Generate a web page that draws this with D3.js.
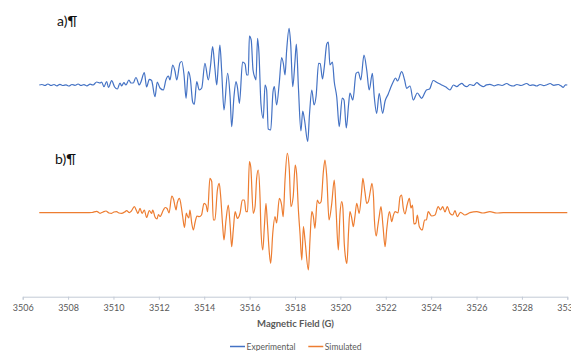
<!DOCTYPE html>
<html>
<head>
<meta charset="utf-8">
<script src="https://cdn.jsdelivr.net/npm/d3@7/dist/d3.min.js"></script>
<style>
  html, body { margin: 0; padding: 0; background: #fff; }
  svg { display: block; }
</style>
</head>
<body>
<div id="chart"></div>
<script>
// EPR spectra: field (G) and first-derivative intensity (a.u.)
const expField = [3506.73,3506.85,3506.98,3507.11,3507.25,3507.38,3507.51,3507.64,3507.78,3507.91,3508.04,3508.17,3508.30,3508.44,3508.57,3508.70,3508.83,3508.97,3509.10,3509.26,3509.41,3509.48,3509.58,3509.70,3509.78,3509.92,3510.05,3510.17,3510.29,3510.36,3510.46,3510.55,3510.68,3510.77,3510.87,3510.99,3511.14,3511.21,3511.36,3511.46,3511.58,3511.68,3511.83,3511.93,3512.05,3512.20,3512.31,3512.42,3512.49,3512.61,3512.71,3512.79,3512.93,3513.01,3513.11,3513.20,3513.30,3513.39,3513.49,3513.56,3513.67,3513.78,3513.89,3514.03,3514.18,3514.28,3514.37,3514.47,3514.55,3514.62,3514.69,3514.77,3514.87,3515.03,3515.14,3515.21,3515.31,3515.40,3515.47,3515.55,3515.69,3515.80,3515.87,3515.94,3515.99,3516.07,3516.15,3516.24,3516.28,3516.35,3516.41,3516.50,3516.60,3516.68,3516.75,3516.82,3516.93,3517.03,3517.09,3517.19,3517.31,3517.41,3517.49,3517.56,3517.63,3517.74,3517.81,3517.90,3518.00,3518.06,3518.15,3518.26,3518.34,3518.42,3518.56,3518.64,3518.74,3518.84,3518.93,3519.04,3519.11,3519.21,3519.29,3519.40,3519.47,3519.54,3519.65,3519.73,3519.84,3519.95,3520.08,3520.16,3520.26,3520.36,3520.42,3520.55,3520.69,3520.79,3520.90,3521.04,3521.16,3521.27,3521.41,3521.49,3521.60,3521.71,3521.86,3521.97,3522.11,3522.21,3522.33,3522.43,3522.52,3522.70,3522.83,3522.92,3523.07,3523.21,3523.39,3523.58,3523.79,3523.93,3524.09,3524.26,3524.46,3524.65,3524.83,3524.98,3525.13,3525.25,3525.35,3525.45,3525.57,3525.71,3525.87,3526.01,3526.15,3526.30,3526.44,3526.59,3526.77,3526.95,3527.12,3527.33,3527.47,3527.62,3527.78,3527.96,3528.21,3528.36,3528.49,3528.65,3528.80,3528.97,3529.10,3529.24,3529.41,3529.60,3529.72,3529.82,3529.92,3530.00];
const expValue = [0,0.5,-0.5,1,-0.5,0.5,-0.8,0.7,-0.5,0.2,-1,0.5,-0.3,1,-0.5,0.4,-0.8,0.8,0,3,2,3,-1.7,3.5,-2.5,4.3,-2,-4,2,-1,2.3,0,5,2,2,7.5,0,3,12.3,-2,5.7,4.5,-11.7,3,-3,-5,5,9,5,20,14,5,22,23.5,10,-13.3,13.3,6,-17,-19.5,3.3,-5,-3,21.7,5,20,38.3,16.7,0,20,40,13.3,-25,11.7,-11.7,-41.7,-11.7,3.3,-3.3,-18.3,23,21,10,10,49,45,15,7,5,46.7,33,-19,-33.5,0,-5,-44,-45,-7,-1.7,-20,3,27.5,21,10,34,56.7,41,-1.7,24,41,-2,-46,-26,-35,-56.5,-29,-5,-20,-11,21.7,21.5,6,18,41,43,20,23,3.3,-12,-41.7,-13,-15,-43,-20,-8,-15,11.7,13,5,30,15,-5,11.7,-11,-28.3,-8.3,-28.3,-16,-9,-3,3.3,7,4,13.3,5,-3.3,-1,-15,-8,-13.3,-5,-4,4.5,2.5,0,-2,-5,0,-1.7,0.5,1.7,-0.5,-1.7,0.5,-0.5,2.3,0,-1.7,0.2,0.7,-0.8,0.4,-0.5,1.5,-0.2,-1,0.5,-0.5,1.5,-0.5,0.2,-1,0.5,-0.6,0.3,1.5,-0.3,0.5,-0.8,-2.3,0.2,0];

const simField = [3506.73,3508.82,3509.05,3509.26,3509.41,3509.54,3509.67,3509.80,3509.92,3510.02,3510.14,3510.24,3510.36,3510.49,3510.58,3510.70,3510.79,3510.92,3511.02,3511.08,3511.17,3511.26,3511.36,3511.46,3511.58,3511.68,3511.73,3511.83,3511.92,3511.98,3512.05,3512.20,3512.28,3512.36,3512.45,3512.57,3512.65,3512.71,3512.76,3512.81,3512.91,3512.99,3513.05,3513.13,3513.21,3513.25,3513.32,3513.37,3513.45,3513.52,3513.60,3513.68,3513.78,3513.88,3513.99,3514.08,3514.15,3514.25,3514.33,3514.40,3514.47,3514.58,3514.66,3514.73,3514.81,3514.87,3514.96,3515.06,3515.14,3515.21,3515.28,3515.36,3515.46,3515.58,3515.68,3515.77,3515.84,3515.91,3515.99,3516.05,3516.16,3516.24,3516.31,3516.38,3516.46,3516.50,3516.58,3516.65,3516.72,3516.78,3516.87,3516.93,3517.02,3517.12,3517.19,3517.31,3517.41,3517.48,3517.56,3517.66,3517.75,3517.82,3517.92,3518.01,3518.07,3518.15,3518.22,3518.30,3518.37,3518.44,3518.59,3518.66,3518.74,3518.81,3518.88,3518.98,3519.07,3519.15,3519.25,3519.32,3519.40,3519.50,3519.62,3519.73,3519.81,3519.91,3519.98,3520.06,3520.11,3520.17,3520.23,3520.29,3520.36,3520.42,3520.50,3520.57,3520.64,3520.72,3520.83,3520.93,3520.99,3521.08,3521.16,3521.23,3521.34,3521.39,3521.46,3521.50,3521.58,3521.65,3521.71,3521.79,3521.88,3521.97,3522.04,3522.16,3522.21,3522.26,3522.34,3522.41,3522.54,3522.63,3522.70,3522.77,3522.85,3522.94,3523.04,3523.11,3523.18,3523.24,3523.33,3523.39,3523.48,3523.61,3523.71,3523.79,3523.87,3524.02,3524.17,3524.31,3524.41,3524.51,3524.61,3524.71,3524.83,3524.95,3525.05,3525.15,3525.29,3525.49,3525.71,3526.01,3526.28,3526.59,3526.88,3527.18,3530.00];
const simValue = [0,0,0.2,1.4,-0.6,0.7,1.7,-0.3,-0.6,0.7,1,-0.3,-0.6,0.7,2,0,1.7,6,1.7,-0.8,4.4,-0.8,2.7,-4.8,2.2,-0.8,2.7,-4.3,-6.3,-1.8,-3.8,2.7,5.2,4.2,-0.3,16.7,13.2,6.7,2.7,9.7,14.4,5.7,-3.8,-14.8,-0.3,-2.8,-5.3,2.7,-10.6,-17.3,-9.3,-3.3,-4,-2.3,9.4,7.7,1,34.4,31.2,-7.3,-7.3,22.7,29.4,14.7,-12.3,-27.3,-7.3,7.7,-12.3,-34,-17.3,1,-5.6,-0.3,12.7,12.7,1,1,51,45.7,-0.6,6.2,34.4,42.7,14.4,-17.3,-37.3,-14,9.4,-9.3,-40.6,-50.6,-20.6,-4,-10.3,14.4,7.7,-4,32.7,59.4,42.7,6,16,47.7,39.4,2.7,-20.6,-47.3,-14,-27.3,-57.3,-27.3,1,-4,-15.6,12.7,9.4,11,41,52.7,36,-7.3,9.4,32.7,2.7,-37.3,-2.3,11,4.7,-30.6,-45.6,-50.6,-19,1,-5.3,-14,-4,9.4,-0.6,19.4,34.4,21,9.4,11,24.4,29.4,15.7,-7.3,-23.3,-13.3,-4,6,-14,-34,-17.3,1,-3.3,-9,-2.3,1,-0.3,16,17.7,4.7,-1.3,7.7,14.4,4.7,7.7,-11.3,-10.3,-2.3,-14,-17.3,-7.3,-7.3,1,-3.3,-2.3,6,2.7,6,0.7,6,-0.6,-2.3,2,-4,0.4,-2.3,0,1,-0.3,1,-0.3,0.1,0];

const xTicks = [3506,3508,3510,3512,3514,3516,3518,3520,3522,3524,3526,3528,3530];
const seriesNames = ["Experimental", "Simulated"];
const panelLabels = ["a)\u00B6", "b)\u00B6"];

const W = 571, H = 351;
const colors = { exp: "#4472C4", sim: "#ED7D31" };
const expOffset = 127.7; // vertical shift that stacks trace a) above trace b)

const svg = d3.select("#chart").append("svg")
  .attr("width", W).attr("height", H)
  .style("font-family", "Lato, 'Open Sans', sans-serif");

const x = d3.scaleLinear().domain([3506, 3530]).range([22.7, 567.3]);
const y = d3.scaleLinear().domain([-84, 212.7]).range([296.7, 0]);

const expData = expField.map((f, i) => ({ f, v: expValue[i] + expOffset }));
const simData = simField.map((f, i) => ({ f, v: simValue[i] }));

const line = d3.line().x(d => x(d.f)).y(d => y(d.v)).curve(d3.curveMonotoneX);

svg.append("path").datum(expData)
  .attr("d", line).attr("fill", "none")
  .attr("stroke", colors.exp).attr("stroke-width", 1.2).attr("stroke-linejoin", "round");

svg.append("path").datum(simData)
  .attr("d", line).attr("fill", "none")
  .attr("stroke", colors.sim).attr("stroke-width", 1.2).attr("stroke-linejoin", "round");

// x axis
const axis = svg.append("g")
  .attr("transform", `translate(0,${y(-84)})`)
  .call(d3.axisBottom(x).tickValues(xTicks).tickSize(3).tickPadding(5).tickFormat(d3.format("d")));
axis.select(".domain").attr("stroke", "#c3cad6");
axis.selectAll(".tick line").attr("stroke", "#c3cad6");
axis.selectAll(".tick text").attr("fill", "#595959").style("font-size", "9px").style("font-family", "Lato, sans-serif");

svg.append("text")
  .attr("x", 295.5).attr("y", 326.5)
  .attr("text-anchor", "middle")
  .attr("fill", "#595959")
  .style("font-size", "9.5px").style("font-weight", "bold")
  .text("Magnetic Field (G)");

// panel labels
svg.append("text").attr("x", 57).attr("y", 26)
  .style("font-size", "14px").attr("fill", "#111").text(panelLabels[0]);
svg.append("text").attr("x", 55).attr("y", 164)
  .style("font-size", "14px").attr("fill", "#111").text(panelLabels[1]);

// legend
const legend = [
  { name: seriesNames[0], color: colors.exp, x0: 230 },
  { name: seriesNames[1], color: colors.sim, x0: 308.3 }
];
const lg = svg.append("g");
legend.forEach(l => {
  lg.append("line").attr("x1", l.x0).attr("x2", l.x0 + 15)
    .attr("y1", 346.5).attr("y2", 346.5)
    .attr("stroke", l.color).attr("stroke-width", 1.5);
  lg.append("text").attr("x", l.x0 + 16.5).attr("y", 349.5)
    .attr("fill", "#595959").style("font-size", "8.5px").text(l.name);
});
</script>
</body>
</html>
